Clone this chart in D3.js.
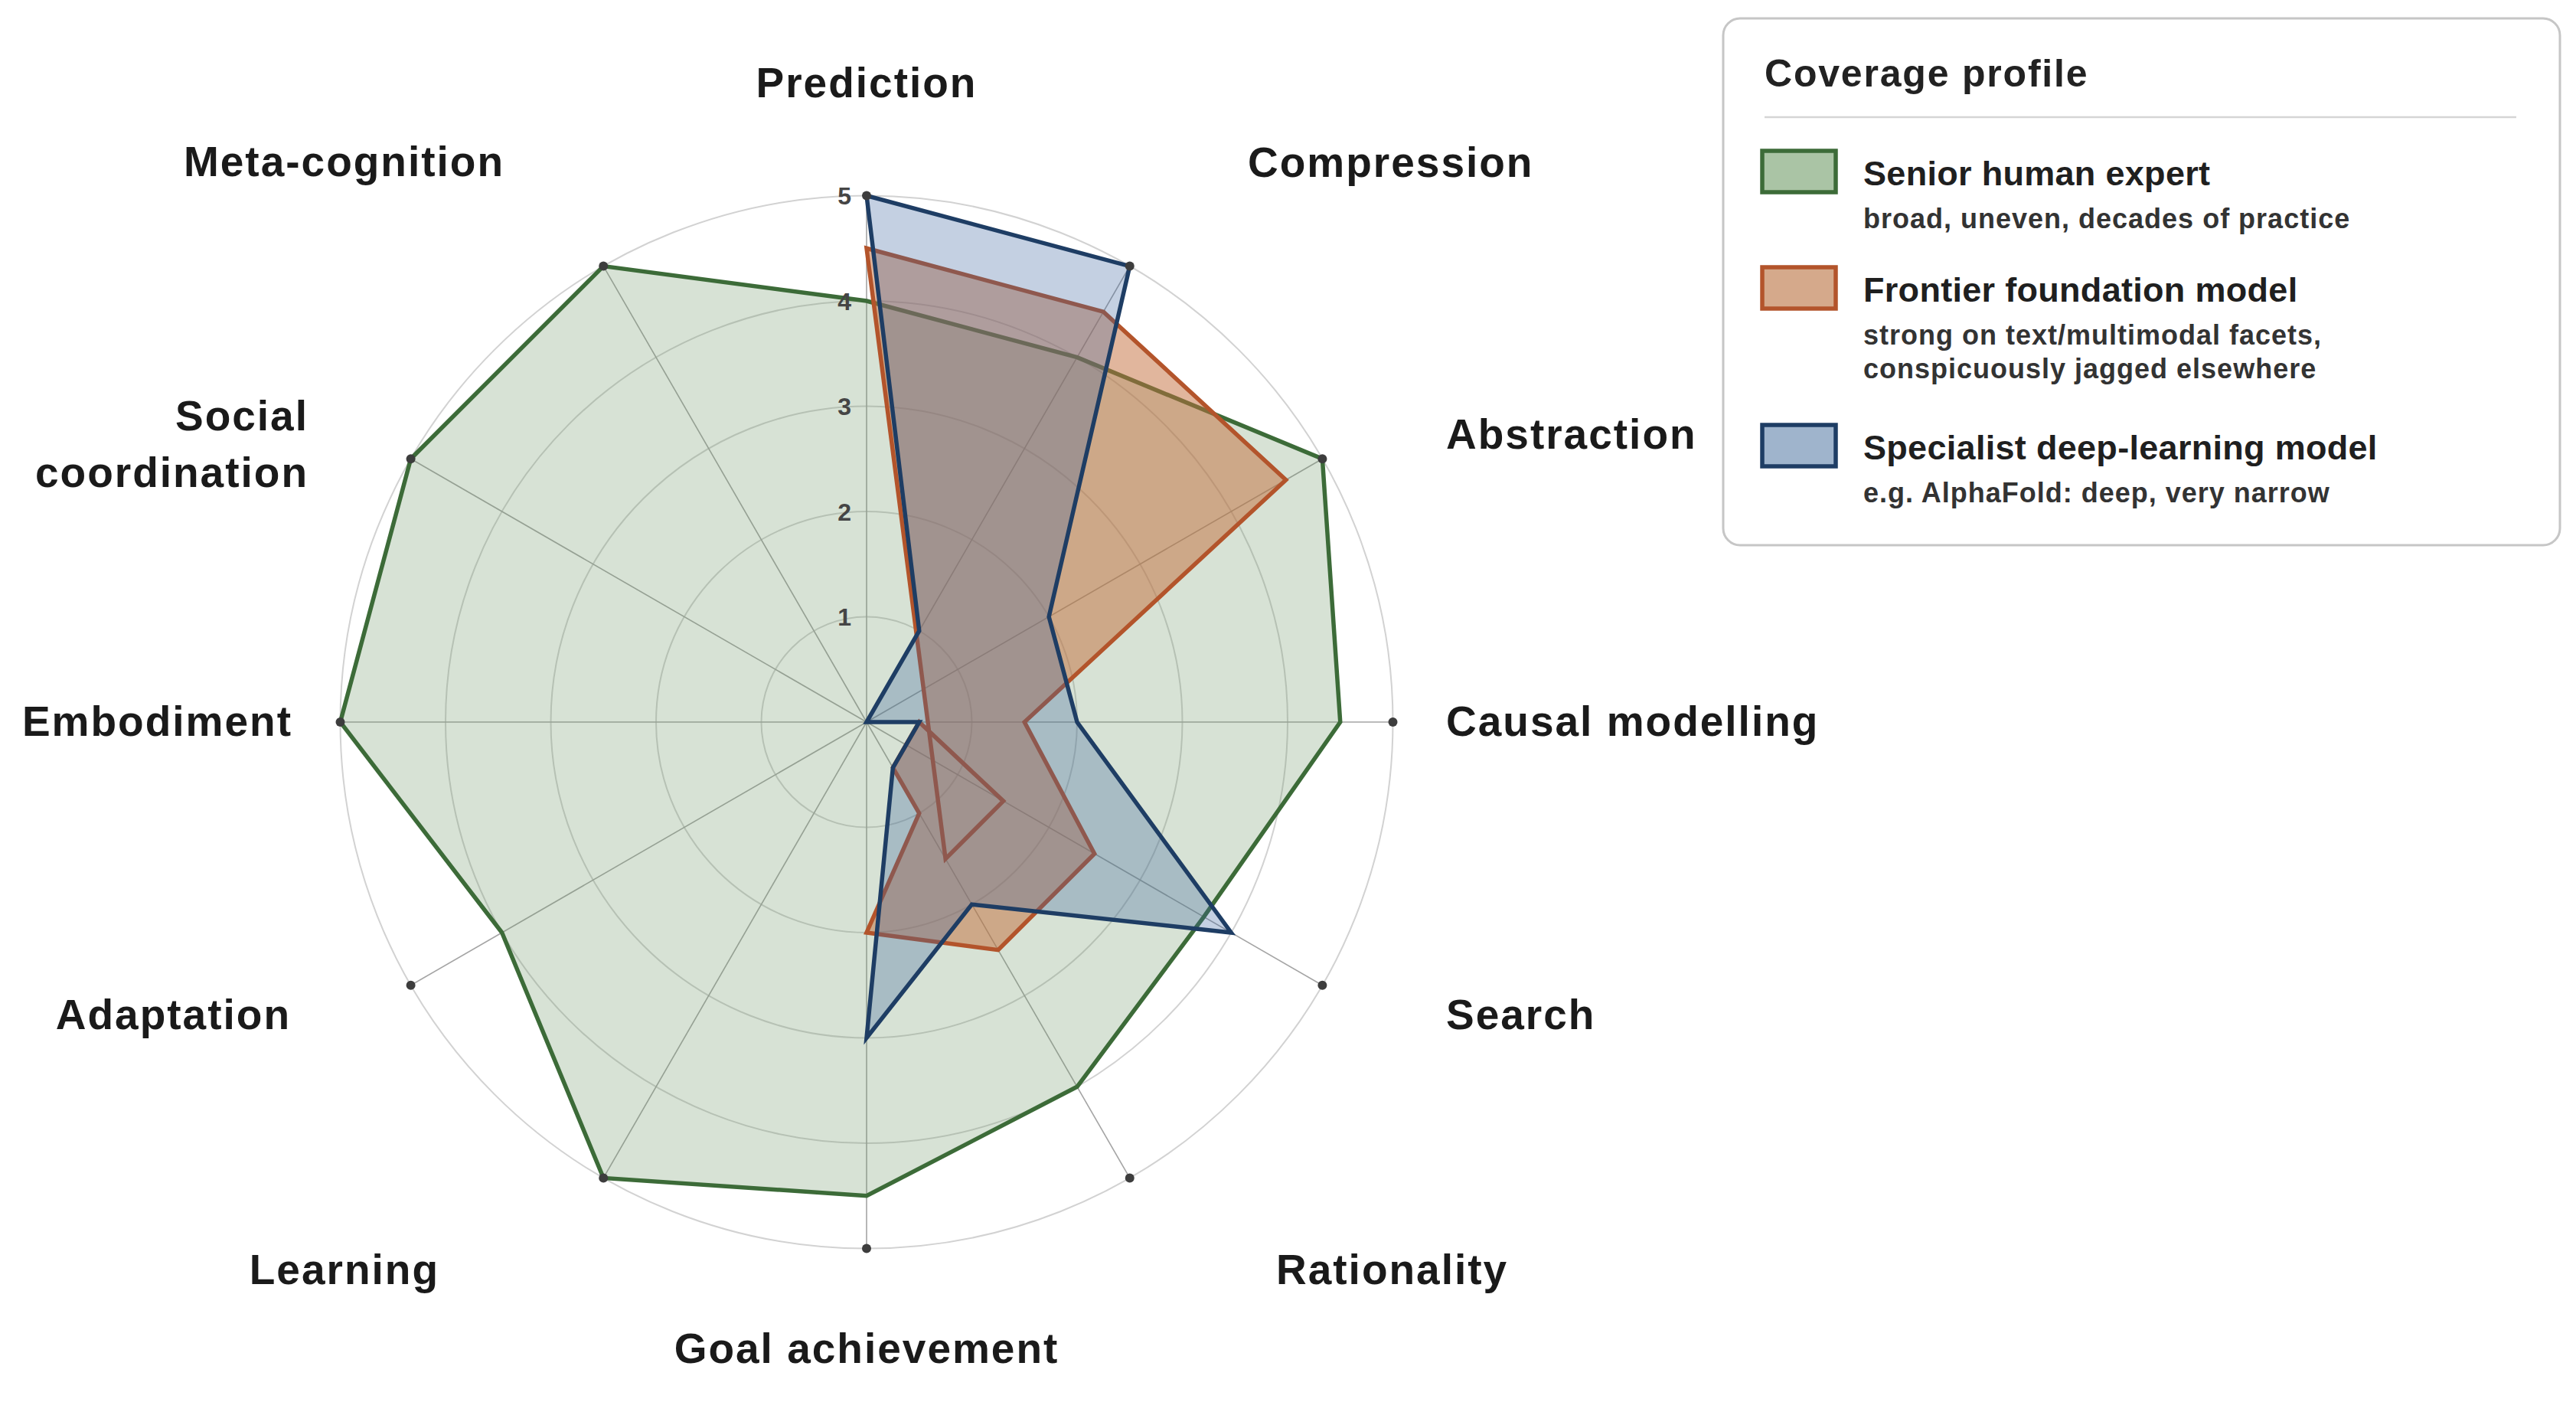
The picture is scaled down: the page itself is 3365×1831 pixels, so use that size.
<!DOCTYPE html>
<html>
<head>
<meta charset="utf-8">
<script src="https://cdn.jsdelivr.net/npm/d3@7"></script>
<style>
  body { margin: 0; background: #fff; }
  text { font-family: "Liberation Sans", Arial, Helvetica, sans-serif; }
</style>
</head>
<body>
<script>
const axes = ["Prediction", "Compression", "Abstraction", "Causal modelling", "Search", "Rationality",
  "Goal achievement", "Learning", "Adaptation", "Embodiment", "Social coordination", "Meta-cognition"];
const ticks = [1, 2, 3, 4, 5];

// senior human expert: one value per spoke
const expertAxes = axes;
const expertValues = [4.0, 4.0, 5.0, 4.5, 3.7, 4.0, 4.5, 5.0, 4.0, 5.0, 5.0, 5.0];

// the two model outlines fold back over the right-hand spokes in the figure,
// so they are kept as (spoke, value) vertices in drawing order
const frontierAxes = ["Prediction", "Compression", "Abstraction", "Causal modelling", "Search", "Rationality",
  "Goal achievement", "Rationality", "Rationality", "Causal modelling", "Search", "Rationality"];
const frontierValues = [4.5, 4.5, 4.6, 1.5, 2.5, 2.5, 2.0, 1.0, 0.5, 0.5, 1.5, 1.5];

const specialistAxes = ["Prediction", "Compression", "Abstraction", "Causal modelling", "Search", "Rationality",
  "Goal achievement", "Rationality", "Causal modelling", "Search", "Compression"];
const specialistValues = [5.0, 5.0, 2.0, 2.0, 4.0, 2.0, 3.0, 0.5, 0.5, 0.0, 1.0];

const seriesNames = ["Senior human expert", "Frontier foundation model", "Specialist deep-learning model"];
const seriesNotes = [
  ["broad, uneven, decades of practice"],
  ["strong on text/multimodal facets,", "conspicuously jagged elsewhere"],
  ["e.g. AlphaFold: deep, very narrow"]
];

// styles
const strokeCols = ["#3c6b38", "#b3542b", "#1e3d64"];
const fillCols = ["rgb(110,150,105)", "rgb(196,110,60)", "rgb(60,100,160)"];
const fillOps = [0.28, 0.5, 0.3];
const swatchFills = ["#aac4a5", "#d5a98b", "#9fb4cc"];

const width = 3365, height = 1831;
const cx = 1132, cy = 943, R = 687.5;

// label anchors relative to the centre: [dx, baseline dy, anchor]
const labelPos = {
  "Prediction": [0, -816, "middle"],
  "Compression": [498, -712, "start"],
  "Abstraction": [757, -357, "start"],
  "Causal modelling": [757, 18, "start"],
  "Search": [757, 401, "start"],
  "Rationality": [535, 734, "start"],
  "Goal achievement": [0, 837, "middle"],
  "Learning": [-558, 734, "end"],
  "Adaptation": [-752, 401, "end"],
  "Embodiment": [-750, 18, "end"],
  "Social coordination": [-729, -381, "end"],
  "Meta-cognition": [-473, -713, "end"]
};

const svg = d3.select("body").append("svg")
  .attr("width", width)
  .attr("height", height);

svg.append("rect").attr("width", width).attr("height", height).attr("fill", "#fff");

const g = svg.append("g").attr("transform", "translate(" + cx + "," + cy + ")");

const angle = d3.scalePoint()
  .domain(axes)
  .range([0, 2 * Math.PI * (axes.length - 1) / axes.length]);

const r = d3.scaleLinear().domain([0, 5]).range([0, R]);

function px(a, v) { return r(v) * Math.sin(angle(a)); }
function py(a, v) { return -r(v) * Math.cos(angle(a)); }

// rings
g.selectAll("circle.ring")
  .data(ticks)
  .enter()
  .append("circle")
  .attr("class", "ring")
  .attr("r", d => r(d))
  .attr("fill", "none")
  .attr("stroke", "#d2d2d2")
  .attr("stroke-width", 2);

// spokes
g.selectAll("line.spoke")
  .data(axes)
  .enter()
  .append("line")
  .attr("class", "spoke")
  .attr("x1", 0).attr("y1", 0)
  .attr("x2", d => px(d, 5))
  .attr("y2", d => py(d, 5))
  .attr("stroke", "#a4a4a4")
  .attr("stroke-width", 1.6);

const radial = d3.lineRadial()
  .angle(d => angle(d.axis))
  .radius(d => r(d.value))
  .curve(d3.curveLinearClosed);

const series = [
  expertAxes.map((a, i) => ({axis: a, value: expertValues[i]})),
  frontierAxes.map((a, i) => ({axis: a, value: frontierValues[i]})),
  specialistAxes.map((a, i) => ({axis: a, value: specialistValues[i]}))
];

series.forEach(function(pts, i) {
  g.append("path")
    .datum(pts)
    .attr("d", radial)
    .attr("fill", fillCols[i])
    .attr("fill-opacity", fillOps[i])
    .attr("stroke", "none");
  g.append("path")
    .datum(pts)
    .attr("d", radial)
    .attr("fill", "none")
    .attr("stroke", strokeCols[i])
    .attr("stroke-width", 5.5)
    .attr("stroke-linejoin", "miter");
});

// end-of-spoke dots
g.selectAll("circle.tip")
  .data(axes)
  .enter()
  .append("circle")
  .attr("class", "tip")
  .attr("cx", d => px(d, 5))
  .attr("cy", d => py(d, 5))
  .attr("r", 6)
  .attr("fill", "#3d3d3d");

// tick labels
g.selectAll("text.tick")
  .data(ticks)
  .enter()
  .append("text")
  .attr("class", "tick")
  .attr("x", -20)
  .attr("y", d => -r(d))
  .attr("dy", "0.36em")
  .attr("text-anchor", "end")
  .style("font-size", "32px")
  .style("font-weight", "bold")
  .attr("fill", "#454545")
  .text(d => d);

// axis labels
axes.forEach(function(a) {
  const p = labelPos[a];
  const t = g.append("text")
    .attr("x", p[0])
    .attr("y", p[1])
    .attr("text-anchor", p[2])
    .style("font-size", "55px")
    .style("font-weight", "bold")
    .style("letter-spacing", "2px")
    .attr("fill", "#1a1a1a");
  if (a === "Social coordination") {
    t.append("tspan").attr("x", p[0]).text("Social");
    t.append("tspan").attr("x", p[0]).attr("dy", 74).text("coordination");
  } else {
    t.text(a);
  }
});

// legend
const lg = svg.append("g");
lg.append("rect")
  .attr("x", 2251).attr("y", 24)
  .attr("width", 1093).attr("height", 688)
  .attr("rx", 22)
  .attr("fill", "#fff")
  .attr("stroke", "#c6c6c6")
  .attr("stroke-width", 3);

lg.append("text")
  .attr("x", 2305).attr("y", 113)
  .style("font-size", "50px")
  .style("font-weight", "bold")
  .style("letter-spacing", "1.8px")
  .attr("fill", "#222")
  .text("Coverage profile");

lg.append("line")
  .attr("x1", 2305).attr("x2", 3287)
  .attr("y1", 153).attr("y2", 153)
  .attr("stroke", "#d5d5d5")
  .attr("stroke-width", 2.5);

const swatchTop = [197, 349, 555];
seriesNames.forEach(function(name, i) {
  const y0 = swatchTop[i];
  lg.append("rect")
    .attr("x", 2302).attr("y", y0)
    .attr("width", 96).attr("height", 54)
    .attr("fill", swatchFills[i])
    .attr("stroke", strokeCols[i])
    .attr("stroke-width", 5.5);
  lg.append("text")
    .attr("x", 2434).attr("y", y0 + 45)
    .style("font-size", "45px")
    .style("font-weight", "bold")
    .style("letter-spacing", "0.3px")
    .attr("fill", "#1f1f1f")
    .text(name);
  seriesNotes[i].forEach(function(line, j) {
    lg.append("text")
      .attr("x", 2434).attr("y", y0 + 101 + j * 43.5)
      .style("font-size", "36px")
      .style("font-weight", "bold")
      .style("letter-spacing", "1px")
      .attr("fill", "#333")
      .text(line);
  });
});
</script>
</body>
</html>
